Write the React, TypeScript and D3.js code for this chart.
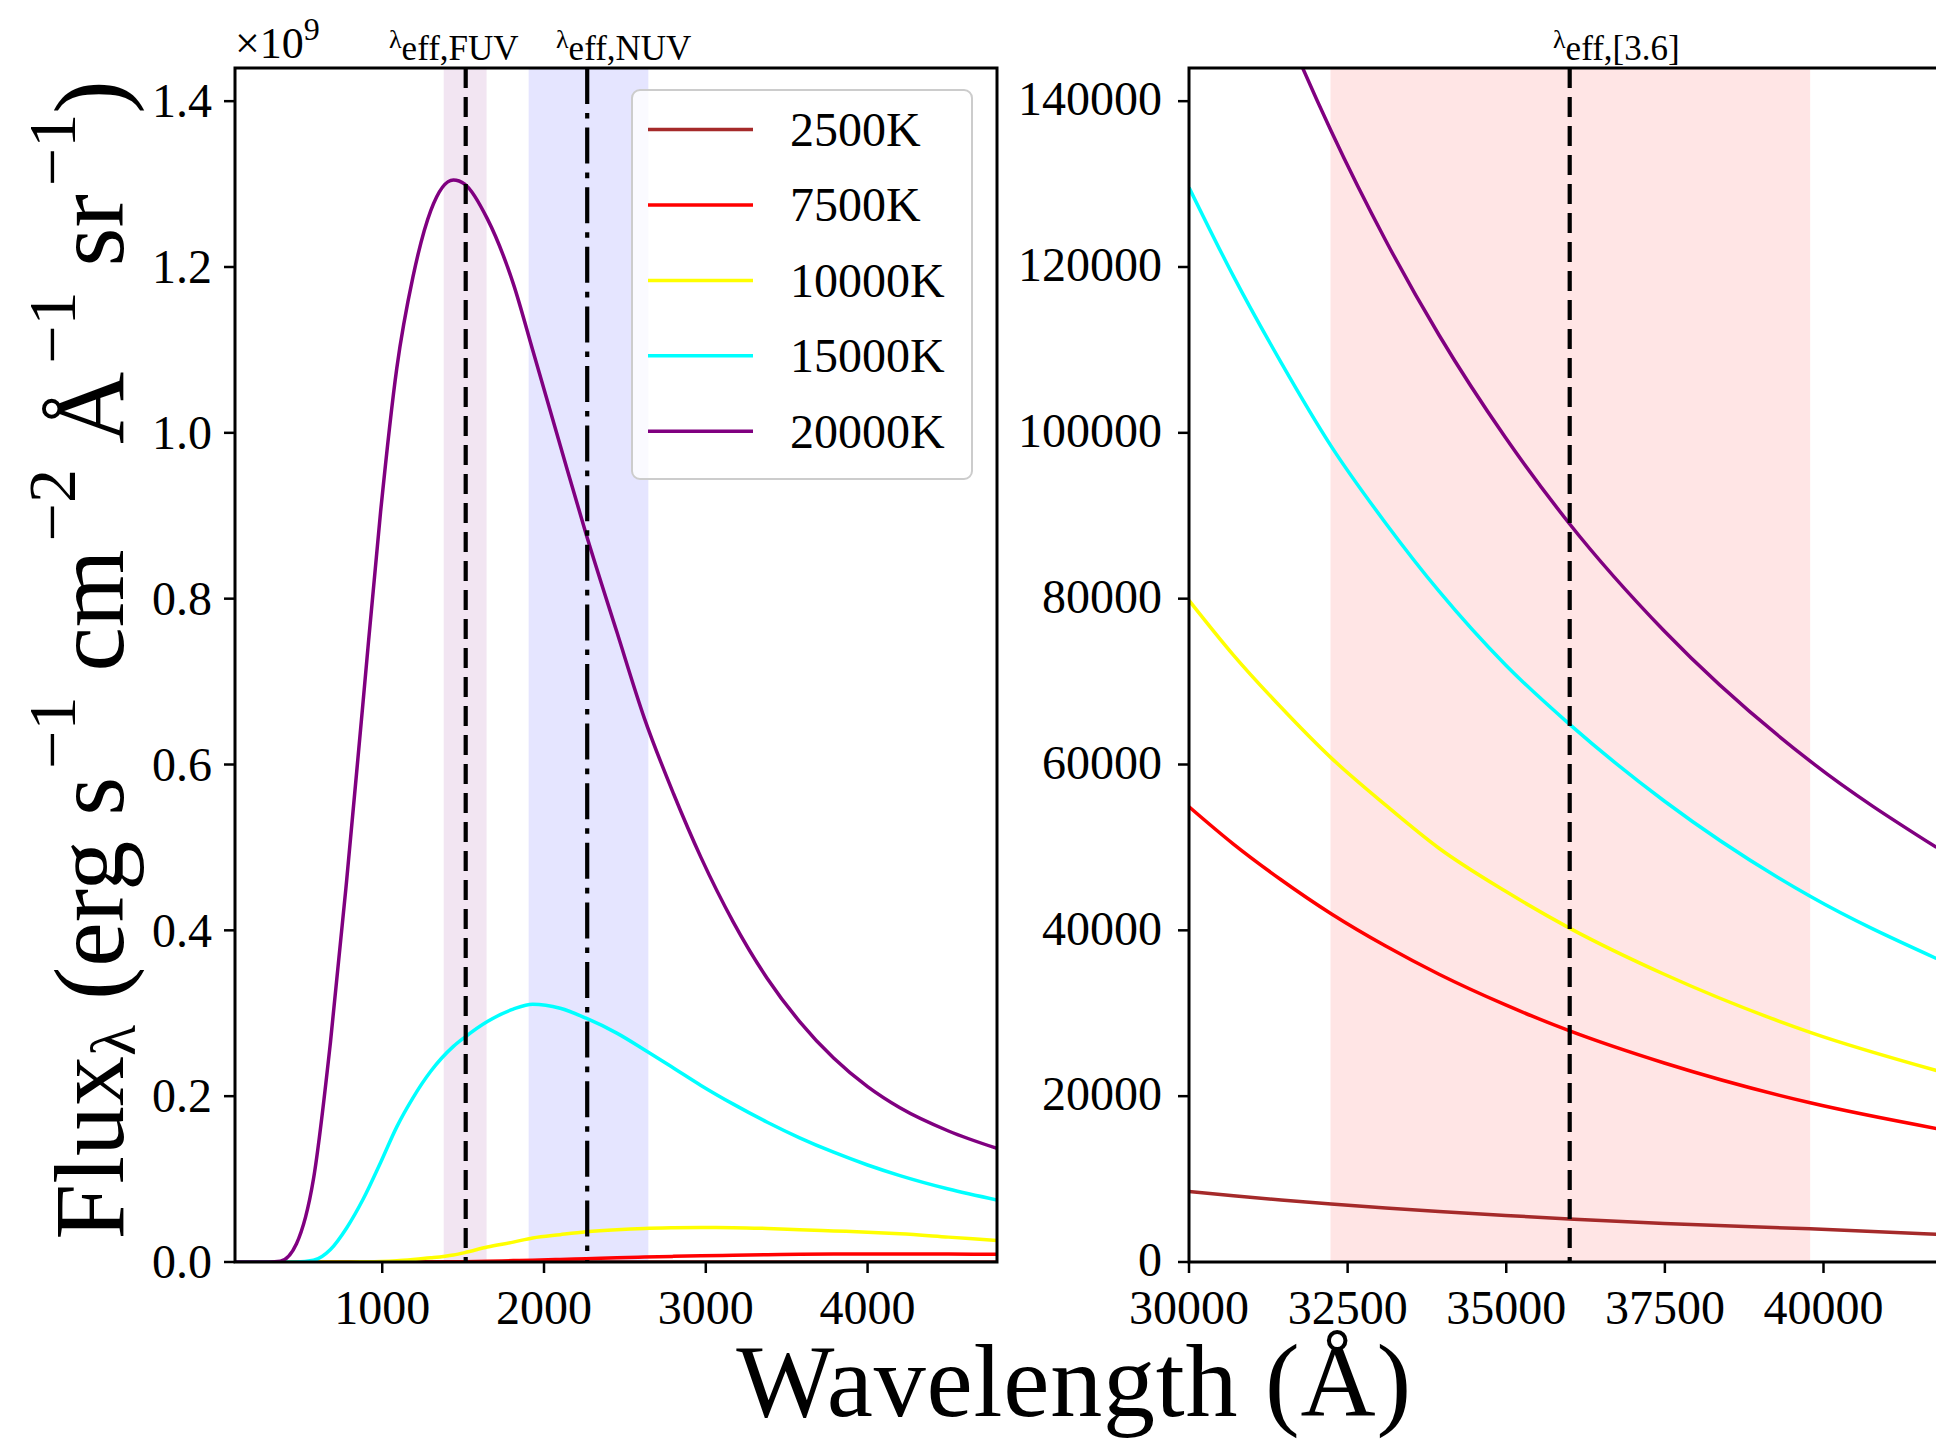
import React from "react";
import * as d3 from "d3";

// ---------- data ----------
const temps = ["2500K", "7500K", "10000K", "15000K", "20000K"];
const colors = ["#a52a2a", "#ff0000", "#ffff00", "#00ffff", "#800080"];

// UV panel (flux in 1e9 units)
const uvWave = [90, 300, 370, 470, 575, 680, 780, 880, 990, 1090, 1190, 1300, 1440, 1510, 1650, 1810, 1930, 2100, 2260, 2450, 2620, 2800, 2970, 3170, 3380, 3580, 3790, 4000, 4200, 4500, 4800];
const uv2500 = [0, 0, 0, 0, 0, 0, 0, 0, 0, 0, 0, 0, 0, 0, 0, 0, 0, 0, 0, 0, 0, 0, 0, 0, 0, 0, 0, 0, 0, 0, 0];
const uv7500 = [0, 0, 0, 0, 0, 0, 0, 0, 0, 0, 0, 0, 0.0002, 0.0004, 0.0009, 0.0017, 0.0022, 0.0031, 0.004, 0.0051, 0.006, 0.0068, 0.0075, 0.0082, 0.0088, 0.0092, 0.0095, 0.0096, 0.0096, 0.0095, 0.0093];
const uv10000 = [0, 0, 0, 0, 0, 0, 0, 0.0002, 0.0006, 0.0015, 0.003, 0.005, 0.0085, 0.0113, 0.018, 0.024, 0.029, 0.033, 0.0364, 0.039, 0.0405, 0.0412, 0.0415, 0.0414, 0.0405, 0.039, 0.0375, 0.036, 0.034, 0.03, 0.026];
const uv15000 = [0, 0, 0, 0, 0.002, 0.015, 0.041, 0.075, 0.12, 0.163, 0.198, 0.23, 0.26, 0.271, 0.29, 0.305, 0.311, 0.306, 0.294, 0.276, 0.256, 0.234, 0.213, 0.1904, 0.1686, 0.1498, 0.1324, 0.117, 0.1042, 0.088, 0.0748];
const uv20000 = [0, 0, 0.001, 0.022, 0.1, 0.265, 0.46, 0.672, 0.905, 1.078, 1.188, 1.268, 1.305, 1.3, 1.258, 1.18, 1.1, 0.985, 0.878, 0.76, 0.656, 0.565, 0.488, 0.41, 0.342, 0.29, 0.246, 0.2115, 0.186, 0.158, 0.137];

// IR panel
const irWave = [30000, 30700, 31450, 32240, 33100, 33940, 34990, 35990, 37490, 39790, 41780];
const ir2500 = [8500, 7990, 7480, 7000, 6520, 6090, 5610, 5200, 4650, 4000, 3350];
const ir7500 = [54900, 50400, 46100, 42000, 38100, 34700, 31000, 27900, 24000, 19200, 16100];
const ir10000 = [79800, 73200, 66900, 60800, 55100, 49900, 44700, 40300, 34700, 27700, 23100];
const ir15000 = [129600, 118900, 108500, 98400, 89100, 80900, 72000, 64900, 55600, 44100, 36600];
const irWave20000 = [31450, 31780, 32240, 33100, 33940, 34990, 35990, 37490, 39790, 41780];
const ir20000 = [150100, 144200, 136400, 123200, 111800, 99400, 89100, 76100, 60400, 50000];

// filter bands and effective wavelengths
const fuvBand = [1380, 1645];
const nuvBand = [1905, 2645];
const irBand = [32230, 39790];
const fuvEff = 1516;
const nuvEff = 2267;
const irEff = 36000;

const uvXTicks = [1000, 2000, 3000, 4000];
const uvYTicks = [0, 0.2, 0.4, 0.6, 0.8, 1.0, 1.2, 1.4];
const irXTicks = [30000, 32500, 35000, 37500, 40000];
const irYTicks = [0, 20000, 40000, 60000, 80000, 100000, 120000, 140000];

const FONT = "'Liberation Serif', 'Times New Roman', serif";

export default function App() {
  const W = 1936, H = 1443;
  const top = 68, bottom = 1262;
  const L = { x0: 235, x1: 997 };
  const R = { x0: 1189, x1: 1950.4 };

  const xL = d3.scaleLinear().domain([90, 4800]).range([L.x0, L.x1]);
  const yL = d3.scaleLinear().domain([0, 1.44]).range([bottom, top]);
  const xR = d3.scaleLinear().domain([30000, 42000]).range([R.x0, R.x1]);
  const yR = d3.scaleLinear().domain([0, 144000]).range([bottom, top]);

  const uvSeries = [uv2500, uv7500, uv10000, uv15000, uv20000];
  const irSeries = [ir2500, ir7500, ir10000, ir15000, ir20000];
  const irWaves = [irWave, irWave, irWave, irWave, irWave20000];

  const lineL = d3.line<number>()
    .x((_, i) => xL(uvWave[i]))
    .y((v) => yL(v))
    .curve(d3.curveMonotoneX);

  const lw = 3.5;
  const vlw = 4.2;

  const tickLen = 11;
  const tickFs = 48;

  return (
    <svg width={W} height={H} style={{ position: "absolute", left: 0, top: 0, background: "#fff" }} fontFamily={FONT}>
      <defs>
        <clipPath id="clipL"><rect x={L.x0} y={top} width={L.x1 - L.x0} height={bottom - top} /></clipPath>
        <clipPath id="clipR"><rect x={R.x0} y={top} width={R.x1 - R.x0} height={bottom - top} /></clipPath>
      </defs>
      <rect x={0} y={0} width={W} height={H} fill="#fff" />

      {/* ---------- LEFT PANEL ---------- */}
      <g clipPath="url(#clipL)">
        <rect x={xL(fuvBand[0])} y={top} width={xL(fuvBand[1]) - xL(fuvBand[0])} height={bottom - top} fill="purple" fillOpacity={0.1} />
        <rect x={xL(nuvBand[0])} y={top} width={xL(nuvBand[1]) - xL(nuvBand[0])} height={bottom - top} fill="blue" fillOpacity={0.1} />
        {uvSeries.map((s, k) => (
          <path key={k} d={lineL(s) || ""} fill="none" stroke={colors[k]} strokeWidth={lw} />
        ))}
        <line x1={xL(fuvEff)} x2={xL(fuvEff)} y1={top} y2={bottom} stroke="#000" strokeWidth={vlw} strokeDasharray="20,9" />
        <line x1={xL(nuvEff)} x2={xL(nuvEff)} y1={top} y2={bottom} stroke="#000" strokeWidth={vlw} strokeDasharray="36,9,5.6,9" />
      </g>
      {/* legend */}
      <g>
        <rect x={632} y={90} width={340} height={389} rx={8} fill="#fff" fillOpacity={0.8} stroke="#cccccc" strokeWidth={2} />
        {temps.map((t, k) => (
          <g key={t}>
            <line x1={648} x2={753} y1={129.6 + k * 75.4} y2={129.6 + k * 75.4} stroke={colors[k]} strokeWidth={lw} />
            <text x={790} y={129.6 + k * 75.4} dy="0.34em" fontSize={48} fill="#000">{t}</text>
          </g>
        ))}
      </g>
      {/* axes frame */}
      <rect x={L.x0} y={top} width={L.x1 - L.x0} height={bottom - top} fill="none" stroke="#000" strokeWidth={3} />
      {uvXTicks.map((t) => (
        <g key={t}>
          <line x1={xL(t)} x2={xL(t)} y1={bottom} y2={bottom + tickLen} stroke="#000" strokeWidth={2.5} />
          <text x={xL(t)} y={1324} textAnchor="middle" fontSize={tickFs}>{t}</text>
        </g>
      ))}
      {uvYTicks.map((t) => (
        <g key={t}>
          <line x1={L.x0 - tickLen} x2={L.x0} y1={yL(t)} y2={yL(t)} stroke="#000" strokeWidth={2.5} />
          <text x={L.x0 - tickLen - 12} y={yL(t)} dy="0.34em" textAnchor="end" fontSize={tickFs}>{t.toFixed(1)}</text>
        </g>
      ))}
      <text x={235} y={58} fontSize={44}>
        <tspan>×10</tspan>
        <tspan fontSize={32} dy={-18}>9</tspan>
      </text>
      <text x={389} y={60} fontSize={35}>
        <tspan fontSize={26} dy={-12}>λ</tspan>
        <tspan dy={12}>eff,FUV</tspan>
      </text>
      <text x={556} y={60} fontSize={35}>
        <tspan fontSize={26} dy={-12}>λ</tspan>
        <tspan dy={12}>eff,NUV</tspan>
      </text>

      {/* ---------- RIGHT PANEL ---------- */}
      <g clipPath="url(#clipR)">
        <rect x={xR(irBand[0])} y={top} width={xR(irBand[1]) - xR(irBand[0])} height={bottom - top} fill="red" fillOpacity={0.1} />
        {irSeries.map((s, k) => {
          const wv = irWaves[k];
          const ln = d3.line<number>().x((_, i) => xR(wv[i])).y((v) => yR(v)).curve(d3.curveMonotoneX);
          return <path key={k} d={ln(s) || ""} fill="none" stroke={colors[k]} strokeWidth={lw} />;
        })}
        <line x1={xR(irEff)} x2={xR(irEff)} y1={top} y2={bottom} stroke="#000" strokeWidth={vlw} strokeDasharray="20,9" />
      </g>
      <rect x={R.x0} y={top} width={R.x1 - R.x0} height={bottom - top} fill="none" stroke="#000" strokeWidth={3} />
      {irXTicks.map((t) => (
        <g key={t}>
          <line x1={xR(t)} x2={xR(t)} y1={bottom} y2={bottom + tickLen} stroke="#000" strokeWidth={2.5} />
          <text x={xR(t)} y={1324} textAnchor="middle" fontSize={tickFs}>{t}</text>
        </g>
      ))}
      {irYTicks.map((t) => (
        <g key={t}>
          <line x1={R.x0 - tickLen} x2={R.x0} y1={yR(t)} y2={yR(t)} stroke="#000" strokeWidth={2.5} />
          <text x={R.x0 - tickLen - 16} y={yR(t) - 2} dy="0.34em" textAnchor="end" fontSize={tickFs}>{t}</text>
        </g>
      ))}
      <text x={1553} y={60} fontSize={35}>
        <tspan fontSize={26} dy={-12}>λ</tspan>
        <tspan dy={12}>eff,[3.6]</tspan>
      </text>

      {/* ---------- axis titles ---------- */}
      <text x={1074} y={1416} textAnchor="middle" fontSize={104} letterSpacing={0.8}>Wavelength (Å)</text>
      <text transform="translate(123,660) rotate(-90)" textAnchor="middle" fontSize={100}>
        <tspan>Flux</tspan>
        <tspan fontSize={64} dy={12}>λ</tspan>
        <tspan dy={-12}> (erg s</tspan>
        <tspan fontSize={68} dy={-48} dx={8}>−1</tspan>
        <tspan dy={48}> cm</tspan>
        <tspan fontSize={68} dy={-48} dx={8}>−2</tspan>
        <tspan dy={48}> Å</tspan>
        <tspan fontSize={68} dy={-48} dx={8}>−1</tspan>
        <tspan dy={48}> sr</tspan>
        <tspan fontSize={68} dy={-48} dx={8}>−1</tspan>
        <tspan dy={48}>)</tspan>
      </text>
    </svg>
  );
}
